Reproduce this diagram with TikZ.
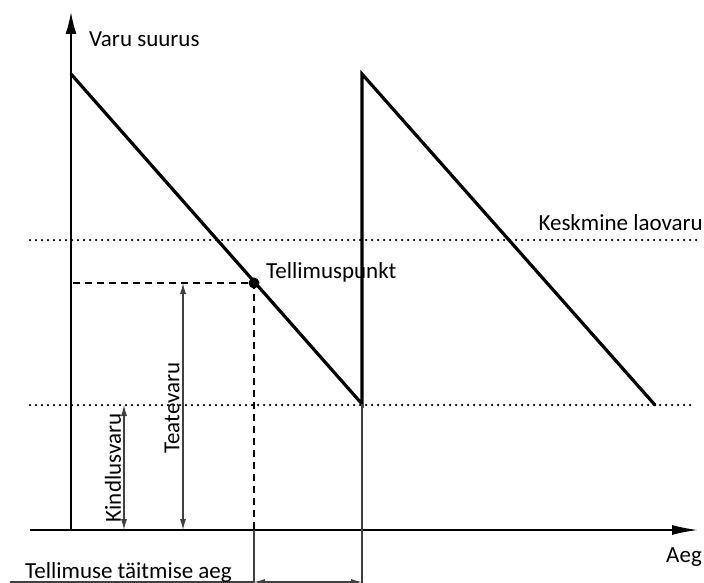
\documentclass[tikz,border=0pt]{standalone}
\usepackage{fontspec}
\setmainfont{Carlito}
\usetikzlibrary{arrows.meta}
\begin{document}
\begin{tikzpicture}[x=1pt,y=-1pt,
  font=\fontsize{23}{27}\selectfont,
  axisline/.style={line width=1.7pt},
  stockline/.style={line width=3.2pt, line join=miter, line cap=round},
  levelline/.style={line width=2.5pt, line cap=round, dash pattern=on 0pt off 6pt},
  guideline/.style={line width=1.6pt, dash pattern=on 7pt off 5pt},
  thinline/.style={line width=1.1pt, black!75},
  dimarrow/.style={thinline, {Latex[length=11pt,width=6pt]}-{Latex[length=11pt,width=6pt]}},
  lbl/.style={inner sep=0pt, text=black}]
\useasboundingbox (0,0) rectangle (704,583);

% coordinates
\coordinate (O) at (71,530);
\coordinate (Ytop) at (71,12);
\coordinate (Xs) at (30,530);
\coordinate (Xe) at (698,530);
\coordinate (A) at (71,74);
\coordinate (B) at (362,404);
\coordinate (C) at (362,74);
\coordinate (D) at (655,405);
\coordinate (P) at (254,283);
\coordinate (AvgL) at (30,240);
\coordinate (AvgR) at (700,240);
\coordinate (SafL) at (30,405);
\coordinate (SafR) at (690,405);
\coordinate (PL) at (73,283);
\coordinate (PAx) at (254,530);
\coordinate (PBot) at (254,590);
\coordinate (BBot) at (362,590);
\coordinate (K1) at (124,405);
\coordinate (K2) at (124,530);
\coordinate (T1) at (183,283);
\coordinate (T2) at (183,530);
\coordinate (DimL) at (254,582);
\coordinate (DimR) at (362,582);
\coordinate (DimS) at (10,582);

% level lines
\draw[levelline] (AvgL) -- (AvgR);
\draw[levelline] (SafL) -- (SafR);

% axes
\draw[axisline, -{Latex[length=22pt,width=11pt]}] (O) -- (Ytop);
\draw[axisline, -{Latex[length=26pt,width=10pt]}] (Xs) -- (Xe);

% stock curve
\draw[stockline] (A) -- (B) -- (C) -- (D);

% reorder point guides
\draw[guideline] (PL) -- (P) -- (PAx);
\draw[thinline] (PAx) -- (PBot);
\draw[thinline] (B) -- (BBot);
\fill (P) circle (5.5pt);

% dimension arrows
\draw[dimarrow] (K1) -- (K2);
\draw[dimarrow] (T1) -- (T2);
\draw[thinline] (DimS) -- (DimL);
\draw[dimarrow] (DimL) -- (DimR);

% labels
\node[lbl, anchor=base west] (ylab) at (89,47) {Varu suurus};
\node[lbl, anchor=base east] (xlab) at (702,562) {Aeg};
\node[lbl, anchor=base east] (avglab) at (703,230) {Keskmine laovaru};
\node[lbl, anchor=base west] (plab) at (266,278) {Tellimuspunkt};
\node[lbl, rotate=90] (klab) at (113,468) {Kindlusvaru};
\node[lbl, rotate=90] (tlab) at (172,408) {Teatevaru};
\node[lbl, anchor=base west] (lead) at (25,578) {Tellimuse täitmise aeg};
\end{tikzpicture}
\end{document}
